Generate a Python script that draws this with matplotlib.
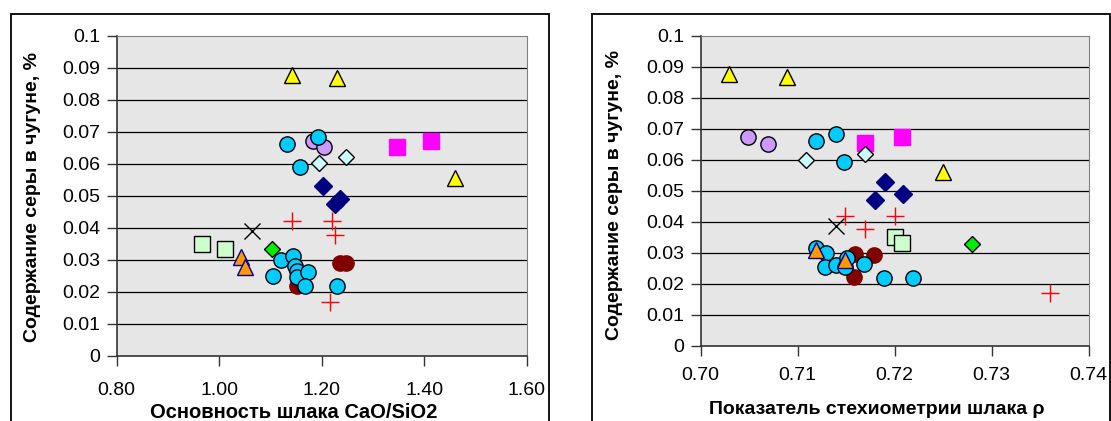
import matplotlib
matplotlib.use('Agg')
import matplotlib.pyplot as plt
from matplotlib.patches import Rectangle

plt.rcParams['font.family'] = ['Liberation Sans', 'DejaVu Sans']

# left panel: basicity CaO/SiO2 vs sulfur, %
yel_b = [1.142, 1.230, 1.460]
yel_sl = [0.0877, 0.0867, 0.0557]
cyan_b = [1.132, 1.193, 1.157, 1.120, 1.143, 1.104, 1.147, 1.151, 1.152, 1.174, 1.168, 1.229]
cyan_sl = [0.0662, 0.0685, 0.0591, 0.0300, 0.0313, 0.0250, 0.0281, 0.0265, 0.0248, 0.0262, 0.0220, 0.0220]
lav_b = [1.183, 1.205]
lav_sl = [0.0672, 0.0653]
lcd_b = [1.194, 1.247]
lcd_sl = [0.0601, 0.0622]
mag_b = [1.346, 1.412]
mag_sl = [0.0653, 0.0670]
navy_b = [1.203, 1.236, 1.226]
navy_sl = [0.0531, 0.0490, 0.0473]
plus_b = [1.142, 1.219, 1.225, 1.216]
plus_sl = [0.0421, 0.0421, 0.0378, 0.0170]
x_b = [1.064]
x_sl = [0.0391]
lgs_b = [0.966, 1.012]
lgs_sl = [0.0350, 0.0334]
org_b = [1.042, 1.050]
org_sl = [0.0310, 0.0279]
grd_b = [1.103]
grd_sl = [0.0333]
mar_b = [1.236, 1.248, 1.151]
mar_sl = [0.0291, 0.0291, 0.0219]

# right panel: slag stoichiometry rho vs sulfur, %
yel_r = [0.7029, 0.7089, 0.7250]
yel_sr = [0.0876, 0.0868, 0.0559]
cyan_r = [0.7119, 0.7139, 0.7148, 0.7119, 0.7129, 0.7128, 0.7139, 0.7149, 0.7151, 0.7168, 0.7189, 0.7219]
cyan_sr = [0.0660, 0.0682, 0.0592, 0.0314, 0.0300, 0.0255, 0.0260, 0.0255, 0.0282, 0.0262, 0.0219, 0.0219]
lav_r = [0.7049, 0.7069]
lav_sr = [0.0672, 0.0651]
lcd_r = [0.7109, 0.7169]
lcd_sr = [0.0599, 0.0618]
mag_r = [0.7169, 0.7208]
mag_sr = [0.0653, 0.0674]
navy_r = [0.7190, 0.7209, 0.7180]
navy_sr = [0.0529, 0.0489, 0.0470]
plus_r = [0.7149, 0.7169, 0.7200, 0.7360]
plus_sr = [0.0418, 0.0378, 0.0418, 0.0169]
x_r = [0.7140]
x_sr = [0.0387]
lgs_r = [0.7200, 0.7208]
lgs_sr = [0.0352, 0.0332]
org_r = [0.7119, 0.7149]
org_sr = [0.0309, 0.0278]
grd_r = [0.7280]
grd_sr = [0.0328]
mar_r = [0.7159, 0.7179, 0.7158]
mar_sr = [0.0296, 0.0292, 0.0220]

yticks = [0, 0.01, 0.02, 0.03, 0.04, 0.05, 0.06, 0.07, 0.08, 0.09, 0.1]
ytick_labels = ['0', '0.01', '0.02', '0.03', '0.04', '0.05', '0.06', '0.07', '0.08', '0.09', '0.1']
xticks_l = [0.8, 1.0, 1.2, 1.4, 1.6]
xticks_r = [0.70, 0.71, 0.72, 0.73, 0.74]

ylabel = 'Содержание серы в чугуне, %'
xlabel_l = 'Основность шлака CaO/SiO2'
xlabel_r = 'Показатель стехиометрии шлака ρ'


def draw(ax, d, xpad):
    ax.set_facecolor('#e6e6e6')
    for y in yticks[1:-1]:
        ax.axhline(y, color='black', lw=0.9, zorder=1)
    ax.plot(*d['mar'], 'o', ms=11, mfc='#800000', mec='#800000', zorder=3)
    ax.plot(*d['lav'], 'o', ms=11, mfc='#cc99ff', mec='black', mew=1, zorder=3)
    ax.plot(*d['mag'], 's', ms=11.5, mfc='#ff00ff', mec='#ff00ff', zorder=3)
    ax.plot(*d['cyan'], 'o', ms=11, mfc='#00ccff', mec='black', mew=1, zorder=4)
    ax.plot(*d['lcd'], 'D', ms=8.5, mfc='#ccffff', mec='black', mew=1, zorder=4)
    ax.plot(*d['navy'], 'D', ms=9, mfc='#000080', mec='#000080', zorder=4)
    ax.plot(*d['lgs'], 's', ms=11, mfc='#ccffcc', mec='black', mew=1, zorder=4)
    ax.plot(*d['grd'], 'D', ms=8.5, mfc='#00ee00', mec='black', mew=1, zorder=4)
    ax.plot(*d['x'], 'x', ms=12, color='black', mew=1, zorder=4)
    ax.plot(*d['plus'], '+', ms=13, color='#ff0000', mew=1, zorder=4)
    ax.plot(*d['yel'], '^', ms=12, mfc='#ffff00', mec='black', mew=1, zorder=5)
    ax.plot(*d['org'], '^', ms=12, mfc='#ff9900', mec='#000099', mew=1, zorder=5)
    ax.set_ylim(0, 0.1)
    ax.set_yticks(yticks, ytick_labels)
    for side in ['top', 'right']:
        ax.spines[side].set_color('#808080')
    for side in ['left', 'bottom']:
        ax.spines[side].set_color('#333333')
        ax.spines[side].set_linewidth(1.2)
    ax.tick_params(direction='out', length=7, width=1, color='#333333', labelsize=14)
    ax.tick_params(axis='y', pad=5)
    ax.tick_params(axis='x', pad=xpad)


fig = plt.figure(figsize=(11.11, 4.21), dpi=100)
ax1 = fig.add_axes([0.1050, 0.1544, 0.3693, 0.7608])
ax2 = fig.add_axes([0.6307, 0.1789, 0.3492, 0.7363])

draw(ax1, dict(yel=(yel_b, yel_sl), cyan=(cyan_b, cyan_sl), lav=(lav_b, lav_sl), lcd=(lcd_b, lcd_sl),
               mag=(mag_b, mag_sl), navy=(navy_b, navy_sl), plus=(plus_b, plus_sl), x=(x_b, x_sl),
               lgs=(lgs_b, lgs_sl), org=(org_b, org_sl), grd=(grd_b, grd_sl), mar=(mar_b, mar_sl)), 11.5)
ax1.set_xlim(0.8, 1.6)
ax1.set_xticks(xticks_l, [f'{v:.2f}' for v in xticks_l])
ax1.set_xlabel(xlabel_l, fontsize=14.5, fontweight='bold', va='baseline')
ax1.xaxis.set_label_coords(0.431, -0.1936)
ax1.set_ylabel(ylabel, fontsize=14, fontweight='bold', va='center')
ax1.yaxis.set_label_coords(-0.204, 0.495)

draw(ax2, dict(yel=(yel_r, yel_sr), cyan=(cyan_r, cyan_sr), lav=(lav_r, lav_sr), lcd=(lcd_r, lcd_sr),
               mag=(mag_r, mag_sr), navy=(navy_r, navy_sr), plus=(plus_r, plus_sr), x=(x_r, x_sr),
               lgs=(lgs_r, lgs_sr), org=(org_r, org_sr), grd=(grd_r, grd_sr), mar=(mar_r, mar_sr)), 8.5)
ax2.set_xlim(0.70, 0.74)
ax2.set_xticks(xticks_r, [f'{v:.2f}' for v in xticks_r])
ax2.set_xlabel(xlabel_r, fontsize=14, fontweight='bold', va='baseline')
ax2.xaxis.set_label_coords(0.454, -0.2203)
ax2.set_ylabel(ylabel, fontsize=14, fontweight='bold', va='center')
ax2.yaxis.set_label_coords(-0.221, 0.486)

# chart-area frames
for x0, x1 in [(11, 549), (592, 1110)]:
    fig.patches.append(Rectangle((x0 / 1111, -0.05), (x1 - x0) / 1111, 1.05 - 14 / 421,
                                 transform=fig.transFigure, fill=False, ec='black', lw=1.3))

fig.savefig('out.png', dpi=100)
